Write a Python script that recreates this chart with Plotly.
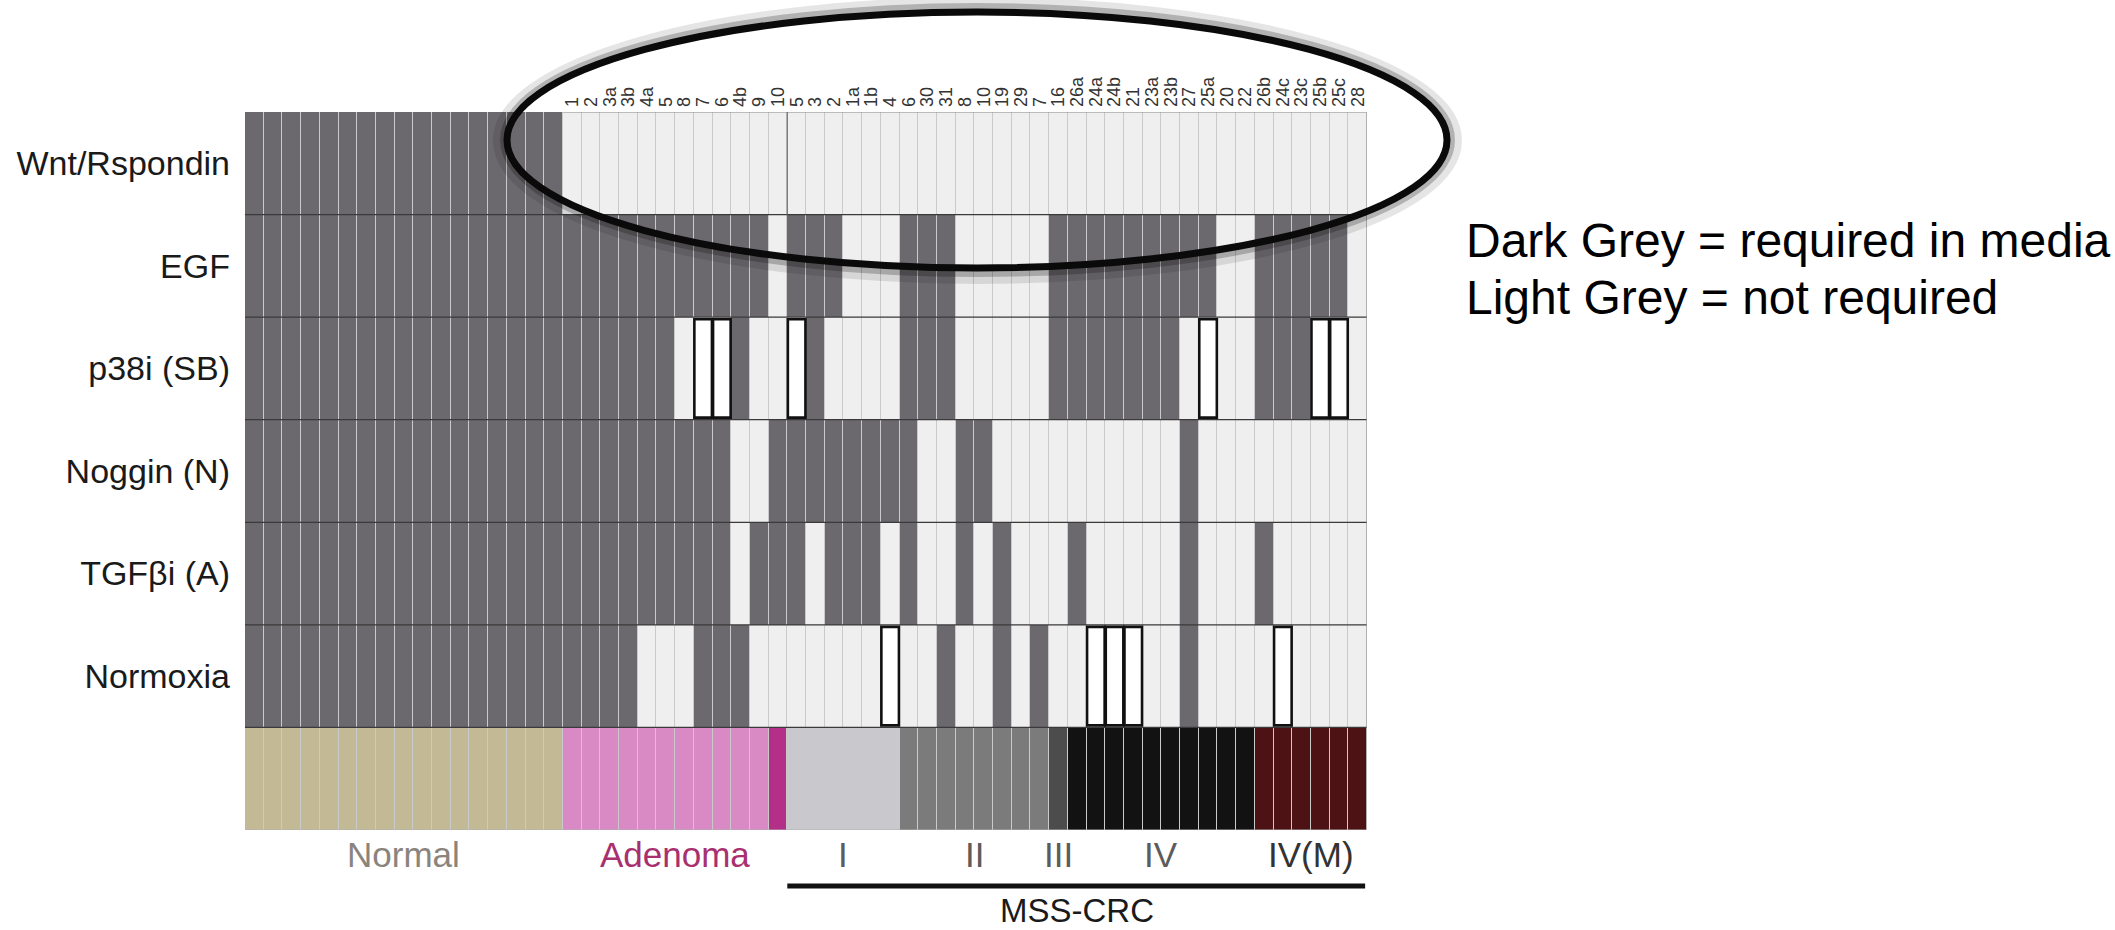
import plotly.graph_objects as go
import numpy as np

# ---------------- data ----------------
factors = ["Wnt/Rspondin", "EGF", "p38i (SB)", "Noggin (N)", "TGF\u03b2i (A)", "Normoxia"]

# organoid column labels (Normal organoids carry no label)
normal_count = 17
adenoma_labels = ["1", "2", "3a", "3b", "4a", "5", "8", "7", "6", "4b", "9", "10"]
mss_labels = ["5", "3", "2", "1a", "1b", "4", "6", "30", "31", "8", "10", "19", "29", "7",
              "16", "26a", "24a", "24b", "21", "23a", "23b", "27", "25a", "20", "22",
              "26b", "24c", "23c", "25b", "25c", "28"]

# 1 = required (dark grey), 0 = not required (light grey), 2 = not required, highlighted (white boxed)
normal_wnt      = [1, 1, 1, 1, 1, 1, 1, 1, 1, 1, 1, 1, 1, 1, 1, 1, 1]
normal_egf      = [1, 1, 1, 1, 1, 1, 1, 1, 1, 1, 1, 1, 1, 1, 1, 1, 1]
normal_p38      = [1, 1, 1, 1, 1, 1, 1, 1, 1, 1, 1, 1, 1, 1, 1, 1, 1]
normal_noggin   = [1, 1, 1, 1, 1, 1, 1, 1, 1, 1, 1, 1, 1, 1, 1, 1, 1]
normal_tgf      = [1, 1, 1, 1, 1, 1, 1, 1, 1, 1, 1, 1, 1, 1, 1, 1, 1]
normal_normoxia = [1, 1, 1, 1, 1, 1, 1, 1, 1, 1, 1, 1, 1, 1, 1, 1, 1]

adenoma_wnt      = [0, 0, 0, 0, 0, 0, 0, 0, 0, 0, 0, 0]
adenoma_egf      = [1, 1, 1, 1, 1, 1, 1, 1, 1, 1, 1, 0]
adenoma_p38      = [1, 1, 1, 1, 1, 1, 0, 2, 2, 1, 0, 0]
adenoma_noggin   = [1, 1, 1, 1, 1, 1, 1, 1, 1, 0, 0, 1]
adenoma_tgf      = [1, 1, 1, 1, 1, 1, 1, 1, 1, 0, 1, 1]
adenoma_normoxia = [1, 1, 1, 1, 0, 0, 0, 1, 1, 1, 0, 0]

mss_wnt      = [0, 0, 0, 0, 0, 0, 0, 0, 0, 0, 0, 0, 0, 0, 0, 0, 0, 0, 0, 0, 0, 0, 0, 0, 0, 0, 0, 0, 0, 0, 0]
mss_egf      = [1, 1, 1, 0, 0, 0, 1, 1, 1, 0, 0, 0, 0, 0, 1, 1, 1, 1, 1, 1, 1, 1, 1, 0, 0, 1, 1, 1, 1, 1, 0]
mss_p38      = [2, 1, 0, 0, 0, 0, 1, 1, 1, 0, 0, 0, 0, 0, 1, 1, 1, 1, 1, 1, 1, 0, 2, 0, 0, 1, 1, 1, 2, 2, 0]
mss_noggin   = [1, 1, 1, 1, 1, 1, 1, 0, 0, 1, 1, 0, 0, 0, 0, 0, 0, 0, 0, 0, 0, 1, 0, 0, 0, 0, 0, 0, 0, 0, 0]
mss_tgf      = [1, 0, 1, 1, 1, 0, 1, 0, 0, 1, 0, 1, 0, 0, 0, 1, 0, 0, 0, 0, 0, 1, 0, 0, 0, 1, 0, 0, 0, 0, 0]
mss_normoxia = [0, 0, 0, 0, 0, 2, 0, 0, 1, 0, 0, 1, 0, 1, 0, 0, 2, 2, 2, 0, 0, 1, 0, 0, 0, 0, 2, 0, 0, 0, 0]

# tumour group / stage bar: 3 Normal, 4 Adenoma, 5 Adenoma (other), 6 I, 7 II, 8 III, 9 IV, 10 IV(M)
normal_stage  = [3, 3, 3, 3, 3, 3, 3, 3, 3, 3, 3, 3, 3, 3, 3, 3, 3]
adenoma_stage = [4, 4, 4, 4, 4, 4, 4, 4, 4, 4, 4, 5]
mss_stage     = [6, 6, 6, 6, 6, 6, 7, 7, 7, 7, 7, 7, 7, 7, 8, 9, 9, 9, 9, 9, 9, 9, 9, 9, 9,
                 10, 10, 10, 10, 10, 10]

group_names  = ["Normal", "Adenoma", "I", "II", "III", "IV", "IV(M)"]
group_sizes  = [17, 12, 6, 8, 1, 10, 6]
group_colors = ["#8a847d", "#a8306e", "#5c5c5c", "#5c5c5c", "#5c5c5c", "#5c5c5c", "#333333"]

code_colors = ["#efefef", "#6b696e", "#ffffff", "#c3b995", "#d98ac4", "#b32f88",
               "#c9c9cd", "#7b7b7b", "#4c4c4c", "#121212", "#4d1213"]

# ---------------- build matrix ----------------
rows = [
    normal_wnt + adenoma_wnt + mss_wnt,
    normal_egf + adenoma_egf + mss_egf,
    normal_p38 + adenoma_p38 + mss_p38,
    normal_noggin + adenoma_noggin + mss_noggin,
    normal_tgf + adenoma_tgf + mss_tgf,
    normal_normoxia + adenoma_normoxia + mss_normoxia,
    normal_stage + adenoma_stage + mss_stage,
]
z = np.array(rows)
ncol = z.shape[1]
nrow = z.shape[0]
xs = list(range(ncol))
ys = list(range(nrow))

n = len(code_colors)
cs = []
for i, c in enumerate(code_colors):
    cs.append([i / n, c])
    cs.append([(i + 1) / n, c])

FONT = "Liberation Sans, Arial, sans-serif"
NARROW = "Liberation Sans Narrow, Arial Narrow, Liberation Sans, Arial, sans-serif"

fig = go.Figure(go.Heatmap(
    z=z, x=xs, y=ys, colorscale=cs, zmin=-0.5, zmax=n - 0.5,
    showscale=False, xgap=1, ygap=0, hoverinfo="skip"))

shapes = []
# row separators
for r in range(1, nrow):
    shapes.append(dict(type="line", xref="x", yref="y", x0=-0.5, x1=ncol - 0.5,
                       y0=r - 0.5, y1=r - 0.5, line=dict(color="#3a3a3a", width=1.3), layer="above"))
# boxed (highlighted) cells
for r in range(nrow - 1):
    for c in range(ncol):
        if z[r, c] == 2:
            shapes.append(dict(type="rect", xref="x", yref="y", x0=c - 0.47, x1=c + 0.47,
                               y0=r - 0.48, y1=r + 0.48, line=dict(color="#111111", width=2.6),
                               fillcolor="rgba(0,0,0,0)", layer="above"))
# frame of the Wnt row / right edge
first_lab = normal_count
n_ad = len(adenoma_labels)
shapes.append(dict(type="line", xref="x", yref="y", x0=first_lab - 0.5, x1=ncol - 0.5 + 0.6,
                   y0=-0.5, y1=-0.5, line=dict(color="#8a8a8a", width=1.2)))
shapes.append(dict(type="line", xref="x", yref="y", x0=ncol - 0.5, x1=ncol - 0.5,
                   y0=-0.5, y1=nrow - 0.5, line=dict(color="#a0a0a0", width=1.2)))
shapes.append(dict(type="line", xref="x", yref="y", x0=first_lab + n_ad - 0.5, x1=first_lab + n_ad - 0.5,
                   y0=-0.5, y1=0.5, line=dict(color="#707070", width=1.2)))
shapes.append(dict(type="line", xref="x", yref="y", x0=-0.5, x1=ncol - 0.5,
                   y0=nrow - 0.5, y1=nrow - 0.5, line=dict(color="#b0b0b0", width=1)))

# MSS-CRC bracket line
mss_start = normal_count + n_ad
shapes.append(dict(type="line", xref="x", yref="paper", x0=mss_start - 0.5, x1=ncol - 0.5 - 0.1,
                   y0=-56 / 718, y1=-56 / 718, line=dict(color="#111111", width=5)))

# hand-drawn ellipse highlight (shadow + outline)
W_PLOT, H_PLOT, L, B = 1122, 718, 245, 100
def px_x(p):
    return (p - L) / W_PLOT
def px_y(p):
    return (930 - B - p) / H_PLOT
shapes.append(dict(type="circle", xref="paper", yref="paper",
                   x0=px_x(500), x1=px_x(1455), y0=px_y(277), y1=px_y(4),
                   line=dict(color="rgba(0,0,0,0.10)", width=14)))
shapes.append(dict(type="circle", xref="paper", yref="paper",
                   x0=px_x(505), x1=px_x(1450), y0=px_y(272), y1=px_y(8),
                   line=dict(color="rgba(0,0,0,0.22)", width=10)))
shapes.append(dict(type="circle", xref="paper", yref="paper",
                   x0=px_x(507), x1=px_x(1447), y0=px_y(268), y1=px_y(12),
                   line=dict(color="#0a0a0a", width=7)))

annotations = []
# group / stage labels below the bar
start = 0
for name, size, col in zip(group_names, group_sizes, group_colors):
    center = start + (size - 1) / 2
    annotations.append(dict(x=center, y=-25 / 718, xref="x", yref="paper", text=name,
                            showarrow=False, xanchor="center", yanchor="middle",
                            font=dict(family=NARROW, size=35, color=col)))
    start += size
annotations.append(dict(x=(mss_start + ncol - 1) / 2, y=-80 / 718, xref="x", yref="paper",
                        text="MSS-CRC", showarrow=False, xanchor="center", yanchor="middle",
                        font=dict(family=NARROW, size=33, color="#1a1a1a")))
# key text
annotations.append(dict(x=px_x(1464), y=px_y(240), xref="paper", yref="paper",
                        text="Dark Grey = required in media", showarrow=False,
                        xanchor="left", yanchor="middle",
                        font=dict(family=FONT, size=48, color="#000000")))
annotations.append(dict(x=px_x(1464), y=px_y(297), xref="paper", yref="paper",
                        text="Light Grey = not required", showarrow=False,
                        xanchor="left", yanchor="middle",
                        font=dict(family=FONT, size=48, color="#000000")))

fig.update_layout(
    width=2115, height=930,
    margin=dict(l=L, r=2115 - L - W_PLOT, t=930 - B - H_PLOT, b=B),
    paper_bgcolor="#ffffff", plot_bgcolor="#cacaca",
    shapes=shapes, annotations=annotations, showlegend=False,
)
fig.update_xaxes(range=[-0.5, ncol - 0.5], side="top",
                 tickmode="array", tickvals=list(range(normal_count, ncol)),
                 ticktext=adenoma_labels + mss_labels, tickangle=-90,
                 tickfont=dict(family=FONT, size=18, color="#333333"),
                 ticks="", ticklabelstandoff=4,
                 showgrid=False, zeroline=False, showline=False)
fig.update_yaxes(range=[nrow - 0.5, -0.5], tickmode="array",
                 tickvals=list(range(len(factors))), ticktext=factors,
                 tickfont=dict(family=FONT, size=34, color="#1a1a1a"),
                 ticks="", ticklabelstandoff=14,
                 showgrid=False, zeroline=False, showline=False)

fig.write_html("out.html")
